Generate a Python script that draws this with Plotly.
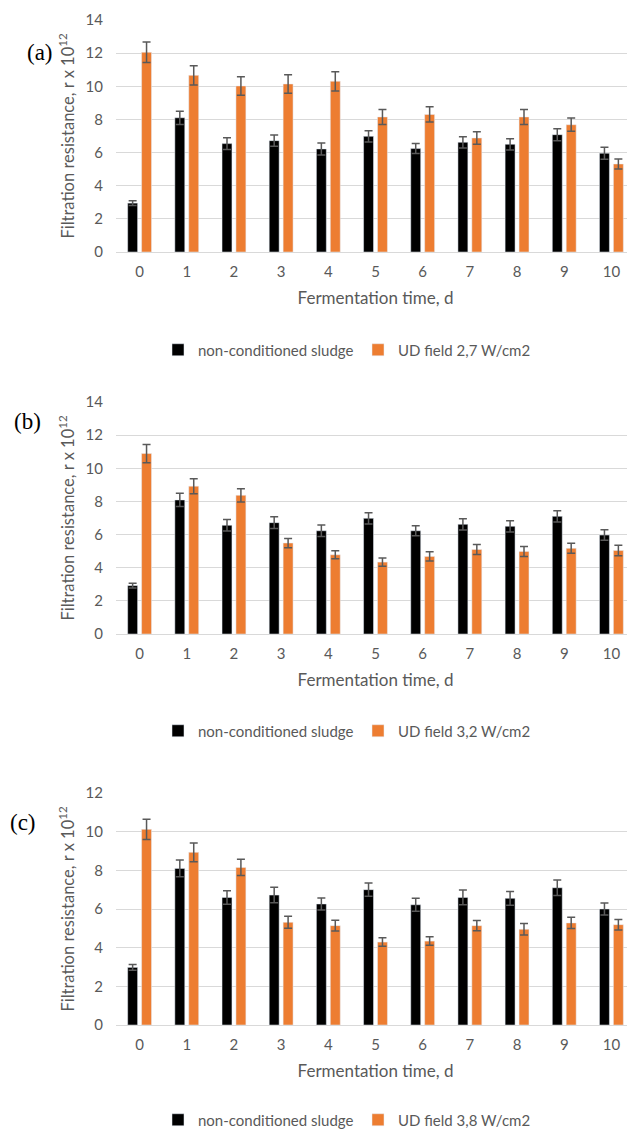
import plotly.graph_objects as go

days = [0, 1, 2, 3, 4, 5, 6, 7, 8, 9, 10]
day_labels = [str(d) for d in days]

# non-conditioned sludge (control) per panel
ctrl_a = [2.95, 8.10, 6.54, 6.72, 6.22, 6.98, 6.24, 6.62, 6.50, 7.08, 5.96]
ctrl_a_err = [0.15, 0.40, 0.35, 0.34, 0.36, 0.34, 0.30, 0.34, 0.34, 0.36, 0.36]
ctrl_b = [2.92, 8.09, 6.56, 6.72, 6.23, 6.98, 6.23, 6.62, 6.50, 7.10, 5.97]
ctrl_b_err = [0.15, 0.40, 0.35, 0.35, 0.35, 0.34, 0.30, 0.34, 0.34, 0.34, 0.32]
ctrl_c = [2.98, 8.10, 6.60, 6.72, 6.26, 7.00, 6.22, 6.60, 6.55, 7.10, 6.00]
ctrl_c_err = [0.15, 0.43, 0.35, 0.40, 0.31, 0.34, 0.34, 0.38, 0.35, 0.40, 0.31]

# UD field treatments
ud27 = [12.05, 10.66, 10.02, 10.14, 10.30, 8.15, 8.30, 6.88, 8.15, 7.68, 5.31]
ud27_err = [0.62, 0.58, 0.56, 0.56, 0.58, 0.45, 0.46, 0.38, 0.45, 0.40, 0.30]
ud32 = [10.89, 8.92, 8.37, 5.49, 4.78, 4.34, 4.68, 5.10, 4.98, 5.17, 5.04]
ud32_err = [0.55, 0.45, 0.40, 0.28, 0.24, 0.25, 0.28, 0.30, 0.30, 0.30, 0.32]
ud38 = [10.12, 8.93, 8.15, 5.31, 5.14, 4.29, 4.34, 5.14, 4.95, 5.28, 5.19]
ud38_err = [0.52, 0.48, 0.42, 0.31, 0.28, 0.22, 0.22, 0.26, 0.30, 0.29, 0.27]

ctrl_name = "non-conditioned sludge"
ud_names = ["UD field 2,7 W/cm2", "UD field 3,2 W/cm2", "UD field 3,8 W/cm2"]
panel_tags = ["(a)", "(b)", "(c)"]
y_max = [14, 14, 12]

BLACK = "#000000"
ORANGE = "#ED7D31"
ERR = "#595959"
GRID = "#D9D9D9"
TXT = "#595959"
FONT = "Lato"

OFF = 8  # default page body margin
W, H = 635 - OFF, 1129 - OFF
L = 116 - OFF
rows = [(20, 252), (402, 634), (793, 1025)]          # reference px (top, bottom)
legend_rows = [350, 731, 1120]
tag_px = [(40, 52), (27, 422), (23, 822)]

panels = [
    (ctrl_a, ctrl_a_err, ud27, ud27_err),
    (ctrl_b, ctrl_b_err, ud32, ud32_err),
    (ctrl_c, ctrl_c_err, ud38, ud38_err),
]


def py(v):
    return 1 - (v - OFF) / H


def px(v):
    return (v - OFF - L) / (W - L)


fig = go.Figure()
for i, (c, ce, u, ue) in enumerate(panels):
    ax = "" if i == 0 else str(i + 1)
    lg = "legend" if i == 0 else f"legend{i + 1}"
    fig.add_trace(go.Bar(
        x=days, y=c, name=ctrl_name, marker_color=BLACK,
        error_y=dict(type="data", array=ce, color=ERR, thickness=1.5, width=4),
        xaxis="x" + ax, yaxis="y" + ax, legend=lg, offsetgroup="a",
    ))
    fig.add_trace(go.Bar(
        x=days, y=u, name=ud_names[i], marker_color=ORANGE,
        error_y=dict(type="data", array=ue, color=ERR, thickness=1.5, width=4),
        xaxis="x" + ax, yaxis="y" + ax, legend=lg, offsetgroup="b",
    ))

layout = dict(
    width=W, height=H,
    margin=dict(l=L, r=0, t=0, b=0, autoexpand=False),
    paper_bgcolor="white", plot_bgcolor="white",
    barmode="group", bargap=0.41, bargroupgap=0.286,
    font=dict(family=FONT, size=15, color=TXT),
    showlegend=True,
    annotations=[],
)
for i in range(3):
    ax = "" if i == 0 else str(i + 1)
    top, bot = rows[i]
    ticks = list(range(0, y_max[i] + 1, 2))
    layout["xaxis" + ax] = dict(
        domain=[0, 1], anchor="y" + ax, range=[-0.5, 10.5],
        tickmode="array", tickvals=days, ticktext=day_labels,
        showgrid=False, zeroline=False, showline=False,
        ticks="outside", ticklen=6, tickcolor="rgba(0,0,0,0)",
        tickfont=dict(size=15, color=TXT),
        title=dict(text="Fermentation time, d", font=dict(size=17, color=TXT), standoff=13),
        fixedrange=True,
    )
    layout["yaxis" + ax] = dict(
        domain=[py(bot), py(top)], anchor="x" + ax, range=[0, y_max[i]],
        tickmode="array", tickvals=ticks, ticktext=[str(t) for t in ticks],
        showgrid=True, gridcolor=GRID, gridwidth=1,
        zeroline=True, zerolinecolor=GRID, zerolinewidth=1,
        showline=False,
        ticks="outside", ticklen=9, tickcolor="rgba(0,0,0,0)",
        tickfont=dict(size=15, color=TXT),
        title=dict(text="Filtration resistance, r x 10<sup>12</sup>",
                   font=dict(size=16.5, color=TXT), standoff=6),
        fixedrange=True,
    )
    lgname = "legend" if i == 0 else f"legend{i + 1}"
    layout[lgname] = dict(
        orientation="h", x=px(158), xanchor="left",
        y=py(legend_rows[i]), yanchor="middle",
        font=dict(size=15, color=TXT), itemwidth=30,
        entrywidth=155, bgcolor="rgba(0,0,0,0)",
        itemclick=False, itemdoubleclick=False,
    )
    layout["annotations"].append(dict(
        text=panel_tags[i], xref="paper", yref="paper",
        x=px(tag_px[i][0]), y=py(tag_px[i][1]),
        xanchor="center", yanchor="middle", showarrow=False,
        font=dict(family="Liberation Serif", size=23, color="black"),
    ))

fig.update_layout(**layout)
fig.write_html("out.html")
